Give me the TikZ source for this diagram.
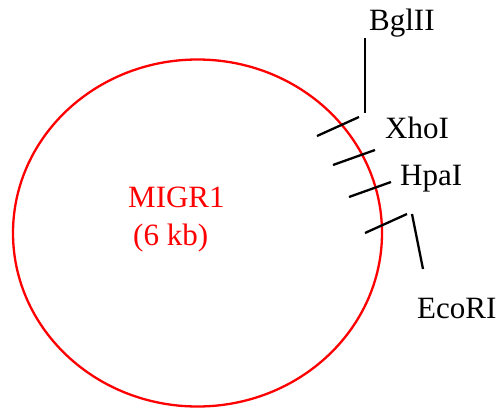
\documentclass[tikz,border=0pt]{standalone}
\usepackage{fontspec}
\setmainfont{Liberation Serif}
\begin{document}
\begin{tikzpicture}[x=1pt,y=-1pt,
  lbl/.style={inner sep=0pt,anchor=base west,font=\fontsize{31}{35}\selectfont},
  red lbl/.style={lbl,text=red},
  tick/.style={draw=black,line width=2.3pt},
  plasmid/.style={draw=red,line width=2.3pt}]
\useasboundingbox (0,0) rectangle (499,408);
\draw[plasmid] (197.5,233) ellipse [x radius=184.5,y radius=173.5];
\node[red lbl] (migr) at (128,207) {MIGR1};
\node[red lbl] (kb) at (133,245) {(6 kb)};
\node[lbl] (bgl) at (369,30) {BglII};
\node[lbl] (xho) at (385,138) {XhoI};
\node[lbl] (hpa) at (400,185) {HpaI};
\node[lbl] (eco) at (417,318) {EcoRI};
\coordinate (t1a) at (317,136); \coordinate (t1b) at (359,117);
\coordinate (t2a) at (333,165); \coordinate (t2b) at (375,150);
\coordinate (t3a) at (349,197); \coordinate (t3b) at (391,182);
\coordinate (t4a) at (365,233); \coordinate (t4b) at (407,214);
\coordinate (b1) at (365,38); \coordinate (b2) at (365,113);
\coordinate (e1) at (412,214); \coordinate (e2) at (423,269);
\draw[tick] (t1a) -- (t1b);
\draw[tick] (t2a) -- (t2b);
\draw[tick] (t3a) -- (t3b);
\draw[tick] (t4a) -- (t4b);
\draw[tick] (b1) -- (b2);
\draw[tick] (e1) -- (e2);
\end{tikzpicture}
\end{document}
